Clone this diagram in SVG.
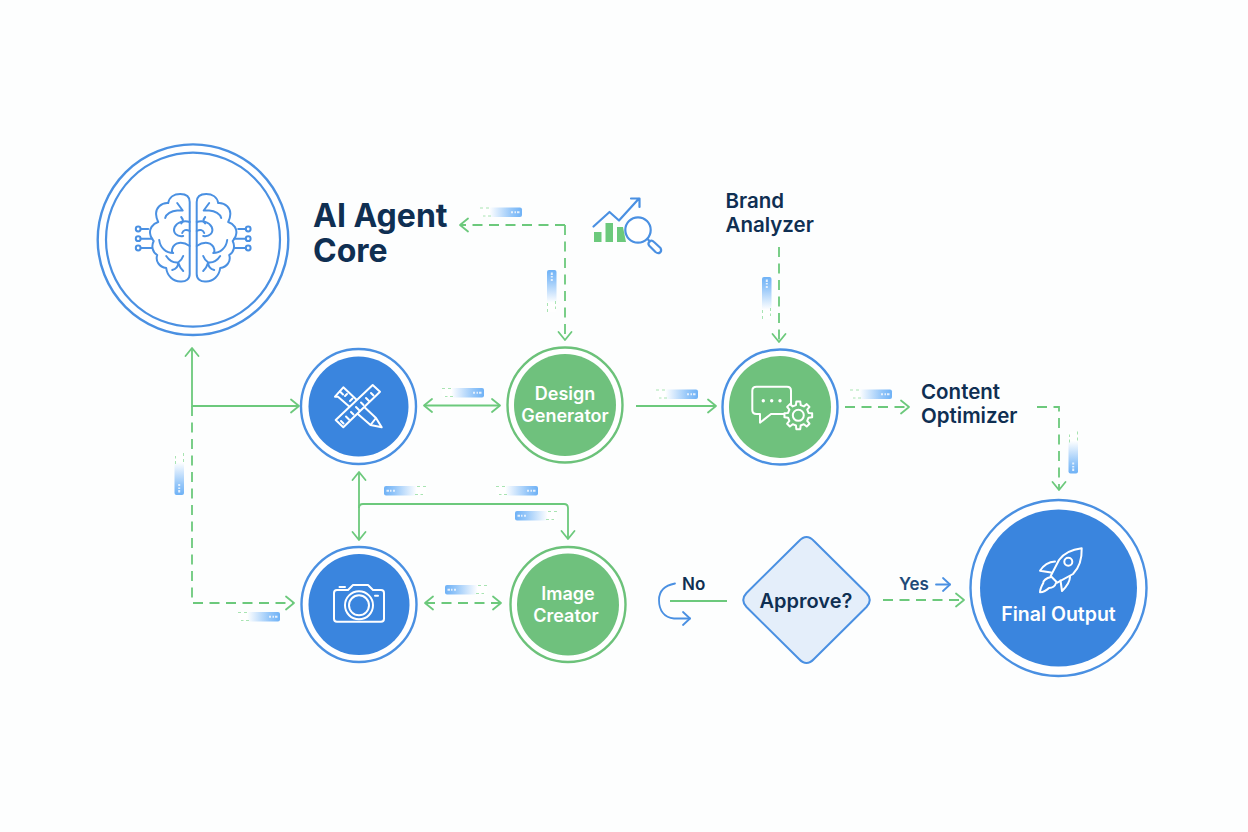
<svg xmlns="http://www.w3.org/2000/svg" xmlns:xlink="http://www.w3.org/1999/xlink" width="1248" height="832" viewBox="0 0 1248 832">
<style>
.ring{fill:#fff;stroke:#4a90e2;stroke-width:2.4}
.ringg{fill:#fff;stroke:#6cc27a;stroke-width:2.4}
.fb{fill:#3a85de}
.fg{fill:#6fc17d}
.ic{fill:none;stroke:#fff;stroke-width:2;stroke-linejoin:round;stroke-linecap:round}
.bl{fill:none;stroke:#4a90e2;stroke-width:2.2;stroke-linecap:round;stroke-linejoin:round}
.c{fill:none;stroke:#6cc97c;stroke-width:1.8}
.d{stroke-dasharray:10 6.5}
.a{marker-end:url(#ah)}
.s{marker-start:url(#ah)}
.t{font-family:Inter,"Liberation Sans",sans-serif;font-weight:600}
.h{font-weight:700}
.n{fill:#0f2f52}
.w{fill:#fff;text-anchor:middle}
</style>
<defs>
<marker id="ah" markerUnits="userSpaceOnUse" markerWidth="12" markerHeight="16" viewBox="0 0 12 16" refX="10" refY="8" orient="auto-start-reverse"><path d="M2,1.5 L10,8 L2,14.5" fill="none" stroke="#6cc97c" stroke-width="1.8" stroke-linecap="round" stroke-linejoin="round"/></marker>
<marker id="ab" markerUnits="userSpaceOnUse" markerWidth="12" markerHeight="16" viewBox="0 0 12 16" refX="10" refY="8" orient="auto"><path d="M3,1.5 L10,8 L3,14.5" fill="none" stroke="#4a90e2" stroke-width="1.8" stroke-linecap="round" stroke-linejoin="round"/></marker>
<linearGradient id="cg" x1="0" x2="1" y1="0" y2="0"><stop offset="0.22" stop-color="#fff"/><stop offset="0.75" stop-color="#94c6f9"/><stop offset="1" stop-color="#6fb2f6"/></linearGradient>
<g id="chip">
<rect width="42" height="9.5" rx="2" fill="url(#cg)"/>
<path d="M31,4.800h2M34.500,4.800h1.500M37,4.800h2.500" stroke="#e4f0fd" stroke-width="2" fill="none"/>
<path d="M0,0.500h3M6,0.500h3M3,8.500h2.500M8,8.500h3" stroke="#a8e4b2" stroke-width="1" fill="none"/>
</g>
<g id="half" fill="none" stroke="#4a90e2" stroke-width="2" stroke-linecap="round" stroke-linejoin="round">
<path d="M-3.500,-36 C-3.500,-41 -7,-44 -13,-44 C-19,-44 -24,-41 -25,-35 C-32,-35.500 -38,-30 -37,-23 C-37,-20 -36,-18 -35,-16 C-41,-14 -44,-9 -43,-4 C-43,-1 -41,1 -39.500,3 C-42,8 -41,14 -36,17 C-38,23 -34,29 -27,30 C-26,38 -20,43.500 -13,43.500 C-7,44 -3.500,41 -3.500,36 Z"/>
<path d="M-16,-35 L-10.500,-27.500 L-16,-27.500 C-22,-27 -27,-24 -28,-20"/>
<path d="M-3.500,-16 C-9,-18 -16,-16 -18.500,-11 C-21,-5 -16,-1 -10,-2"/>
<path d="M-12,-21 C-9.500,-18 -10,-16 -12,-14.500 M-3.500,-7 C-7,-9 -10,-8 -11,-5"/>
<path d="M-34,2 C-33,10 -27,15 -20,15 M-3.500,8 C-11,3 -19,4 -21,11 C-21.500,13 -21,15 -20,15"/>
<path d="M-27,18 C-23,24 -19,25 -15,24.500 C-13,23 -11,21 -10,18 M-15,24.500 C-14,28 -12,31 -10,33 M-15,24.500 C-15,28 -17,31 -21,32"/>
<path d="M-45,-9 H-52.500 M-41,0.700 H-52.500 M-41,10 H-52.500"/>
<circle cx="-55" cy="-9" r="2.400"/><circle cx="-55" cy="0.700" r="2.400"/><circle cx="-55" cy="10" r="2.400"/>
</g>
</defs>
<rect width="1248" height="832" fill="#fdfefe"/>

<g id="connectors">
<path class="c s a" d="M192,348 V406 H299"/>
<path class="c d a" d="M192,406 V603 H294"/>
<path class="c d a" d="M565,225 H460"/>
<path class="c d a" d="M565,225 V340"/>
<path class="c d a" d="M779,247 V342"/>
<path class="c s a" d="M424,405.500 H500"/>
<path class="c a" d="M636,406 H716"/>
<path class="c d a" d="M845,407 H909"/>
<path class="c d a" d="M1037,407 H1059 V490"/>
<path class="c s a" d="M359,472 V540"/>
<path class="c a" d="M359,508 Q359,504 363,504 H564 Q568,504 568,508 V539"/>
<path class="c d s a" d="M425,603 H501"/>
<path class="c" d="M670,601 H727"/>
<path class="c d a" d="M883,600 H964"/>
<path d="M675,583.500 C662,586 659,594 659,600 C659,610 664,618 674,618.500 H690" fill="none" stroke="#4a90e2" stroke-width="1.800" stroke-linecap="round" marker-end="url(#ab)"/>
<path d="M936,584.500 H950" fill="none" stroke="#4a90e2" stroke-width="1.800" stroke-linecap="round" marker-end="url(#ab)"/>
</g>

<g id="chips">
<use xlink:href="#chip" href="#chip" transform="translate(480,207.500)"/>
<use xlink:href="#chip" href="#chip" transform="translate(547,312) rotate(-90)"/>
<use xlink:href="#chip" href="#chip" transform="translate(762,319) rotate(-90)"/>
<use xlink:href="#chip" href="#chip" transform="translate(442,388)"/>
<use xlink:href="#chip" href="#chip" transform="translate(656,389.500)"/>
<use xlink:href="#chip" href="#chip" transform="translate(850,389.500)"/>
<use xlink:href="#chip" href="#chip" transform="translate(1078,431.500) rotate(90)"/>
<use xlink:href="#chip" href="#chip" transform="translate(184,453) rotate(90)"/>
<use xlink:href="#chip" href="#chip" transform="translate(238,612)"/>
<use xlink:href="#chip" href="#chip" transform="translate(426,486) scale(-1,1)"/>
<use xlink:href="#chip" href="#chip" transform="translate(496,486)"/>
<use xlink:href="#chip" href="#chip" transform="translate(557,511) scale(-1,1)"/>
<use xlink:href="#chip" href="#chip" transform="translate(487,585) scale(-1,1)"/>
</g>

<g id="ai-agent-core">
<circle cx="193" cy="239.700" r="95.300" fill="#fff" stroke="#4a90e2" stroke-width="2.400"/>
<circle cx="193" cy="239.700" r="87" fill="#fff" stroke="#4a90e2" stroke-width="2.200"/>
<g transform="translate(193.200,238)"><use xlink:href="#half" href="#half"/><use xlink:href="#half" href="#half" transform="scale(-1,1)"/></g>
<text class="t h n" x="313" y="227" font-size="32">AI Agent</text>
<text class="t h n" x="313" y="262" font-size="32">Core</text>
</g>

<g id="analytics-icon">
<path d="M594,232h7.500v10h-7.500z M605.500,223h7.500v19h-7.500z M617,227h6l3,15h-9z" fill="#6cc97c"/>
<path class="bl" d="M593.500,226.500 L609.500,212 L619,220.500 L639,198.500 M631,198.500 H639.500 V207"/>
<circle cx="638" cy="230" r="12.700" fill="#fff" stroke="#4a90e2" stroke-width="2.200"/>
<path class="bl" d="M647.500,239 L650,241.500 M650,241 Q652,240 654,242 L660.500,248 Q662,251 660,252.500 Q658,254 655.500,252 L649,245.500 Q647.500,243 650,241 Z"/>
</g>

<g id="brand-analyzer">
<text class="t n" x="725.500" y="208" font-size="20.500">Brand</text>
<text class="t n" x="725.500" y="232" font-size="20.500">Analyzer</text>
</g>

<g id="tools-node">
<circle class="ring" cx="358.500" cy="406.500" r="57.500"/>
<circle class="fb" cx="358.500" cy="406.500" r="50"/>
<g class="ic">
<path d="M335,396.700 L343.300,387.300 L376,418 L381.700,427.300 L370.500,425 L338,396.700 Z M370.500,425 L376,418"/>
<path d="M340,391.500l3,3M345,396l2,-2M350,401l2.500,-2.500"/>
<path d="M335.700,420 L372.700,385 L380,391.700 L343.300,427.300 Z" fill="#3a85de"/>
<path d="M341,421l2.500,2.500M346,416.500l3,3M351,412l2.500,2.500M356,407l3,3M361,402.500l2.500,2.500M366,398l3,3M371,393l2.500,2.500"/>
</g>
</g>

<g id="design-generator">
<circle class="ringg" cx="565" cy="405" r="57.500"/>
<circle class="fg" cx="565" cy="405" r="51"/>
<text class="t w" x="565" y="400" font-size="18">Design</text>
<text class="t w" x="565" y="422" font-size="18">Generator</text>
</g>

<g id="chat-settings-node">
<circle class="ring" cx="780" cy="407" r="57.500"/>
<circle class="fg" cx="780" cy="407" r="51"/>
<g class="ic">
<path d="M756.500,386.700 H787 Q791,386.700 791,390.700 V410 Q791,414 787,414 H771 L760,422.700 V414 H756.500 Q752.300,414 752.300,410 V390.700 Q752.300,386.700 756.500,386.700 Z"/>
<g transform="translate(798.300,415.300)"><polygon points="10.230,-2.360 13.860,-1.950 13.860,1.950 10.230,2.360 8.900,5.560 11.180,8.430 8.430,11.180 5.560,8.900 2.360,10.230 1.950,13.860 -1.950,13.860 -2.360,10.230 -5.560,8.900 -8.430,11.180 -11.180,8.430 -8.900,5.560 -10.230,2.360 -13.860,1.950 -13.860,-1.950 -10.230,-2.360 -8.900,-5.560 -11.180,-8.430 -8.430,-11.180 -5.560,-8.900 -2.360,-10.230 -1.950,-13.860 1.950,-13.860 2.360,-10.230 5.560,-8.900 8.430,-11.180 11.180,-8.430 8.900,-5.560" fill="#6fc17d"/><circle r="5.500"/></g>
</g>
<circle cx="763.300" cy="400.700" r="1.700" fill="#fff"/><circle cx="771.700" cy="400.700" r="1.700" fill="#fff"/><circle cx="780" cy="400.700" r="1.700" fill="#fff"/>
</g>

<g id="content-optimizer">
<text class="t n" x="921" y="399" font-size="20.500">Content</text>
<text class="t n" x="921" y="423" font-size="20.500">Optimizer</text>
</g>

<g id="camera-node">
<circle class="ring" cx="359" cy="604.500" r="57.500"/>
<circle class="fb" cx="359" cy="604.500" r="50.500"/>
<g class="ic">
<path d="M337,590 H348 L353,585 H368 L373,590 H381 Q384,590 384,593 V618.700 Q384,621.700 381,621.700 H337 Q334,621.700 334,618.700 V593 Q334,590 337,590 Z"/>
<path d="M339.500,587 H345"/>
<circle cx="359" cy="605.300" r="14"/><circle cx="359" cy="605.300" r="10"/>
<path d="M375,595.700 H378"/>
</g>
</g>

<g id="image-creator">
<circle class="ringg" cx="568" cy="604.500" r="57.500"/>
<circle class="fg" cx="568" cy="604.500" r="51"/>
<text class="t w" x="568" y="600" font-size="18">Image</text>
<text class="t w" x="566" y="622" font-size="18">Creator</text>
</g>

<g id="approve-decision">
<path d="M799,541 Q806.500,533 814,541 L866.500,593 Q873,600 866.500,607 L814,659 Q806.500,667 799,659 L746.500,607 Q740,600 746.500,593 Z" fill="#e4eefa" stroke="#4a90e2" stroke-width="2"/>
<text class="t n" x="806" y="608" font-size="20" text-anchor="middle">Approve?</text>
</g>

<g id="edge-labels">
<text class="t n" x="682" y="590" font-size="17">No</text>
<text class="t" fill="#1f4a78" x="899" y="590" font-size="17">Yes</text>
</g>

<g id="final-output">
<circle class="ring" cx="1058.500" cy="588" r="88"/>
<circle class="fb" cx="1058.500" cy="588" r="78.500"/>
<g class="ic">
<path d="M1081.700,548.300 C1072,549.500 1064,553 1059,560 L1050.700,576 L1057.300,582.700 L1073,574 C1079,568 1082,558 1081.700,548.300 Z"/>
<circle cx="1068.300" cy="561.700" r="4"/>
<path d="M1055,561.500 C1048,562 1043,566 1040,570.700 L1051,572.500"/>
<path d="M1070,576.700 C1070,582 1066,587 1062,591 L1060.500,580.500"/>
<path d="M1051,577 C1046,578 1043,581 1043.300,583 C1041,587 1040,590 1040,592.300 C1044,592 1047,590 1049,588 C1052,588 1055,586 1056,583"/>
</g>
<text class="t w" x="1058.500" y="621" font-size="19.500">Final Output</text>
</g>
</svg>
